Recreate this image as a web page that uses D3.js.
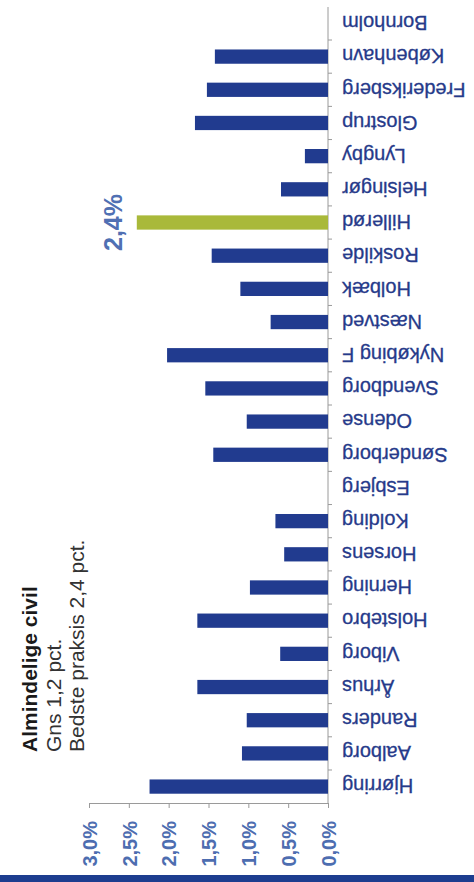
<!DOCTYPE html>
<html>
<head>
<meta charset="utf-8">
<script src="https://cdn.jsdelivr.net/npm/d3@7/dist/d3.min.js"></script>
<style>
  body { margin: 0; background: #fff; }
  svg { display: block; font-family: "Liberation Sans", Arial, sans-serif; }
</style>
</head>
<body>
<div id="chart"></div>
<script>
// data, read top to bottom in the picture
var kommuner = ["Bornholm", "København", "Frederiksberg", "Glostrup", "Lyngby", "Helsingør",
  "Hillerød", "Roskilde", "Holbæk", "Næstved", "Nykøbing F", "Svendborg", "Odense",
  "Sønderborg", "Esbjerg", "Kolding", "Horsens", "Herning", "Holstebro", "Viborg",
  "Århus", "Randers", "Aalborg", "Hjørring"];
var andel = [0, 1.42, 1.52, 1.67, 0.29, 0.59, 2.40, 1.46, 1.10, 0.72, 2.02, 1.54, 1.02,
  1.44, 0, 0.66, 0.55, 0.98, 1.64, 0.60, 1.64, 1.02, 1.08, 2.24];
var ticks = [0, 0.5, 1.0, 1.5, 2.0, 2.5, 3.0];
var best = "Hillerød";
var titel = ["Almindelige civil", "Gns 1,2 pct.", "Bedste praksis 2,4 pct."];

var width = 474, height = 882;

var svg = d3.select("#chart").append("svg")
  .attr("width", width)
  .attr("height", height);

// scales: value grows leftwards from the baseline
var x = d3.scaleLinear().domain([0, 3]).range([328, 89]);
var y = d3.scaleBand().domain(kommuner).range([7, 803]).paddingInner(0.57).paddingOuter(0.28);

var fmt = function(v) { return d3.format(".1f")(v).replace(".", ",") + "%"; };

// value axis at the bottom
var xAxis = svg.append("g")
  .attr("transform", "translate(0,803)")
  .call(d3.axisBottom(x).tickValues(ticks).tickSize(5).tickFormat(fmt));
xAxis.select(".domain").attr("stroke", "#9a9a9a");
xAxis.selectAll(".tick line").attr("stroke", "#9a9a9a");
xAxis.selectAll(".tick text")
  .attr("fill", "#4d6db0")
  .attr("font-size", 20)
  .attr("font-weight", 600)
  .attr("text-anchor", "end")
  .attr("transform", "translate(0,18) rotate(-90)")
  .attr("x", 0)
  .attr("y", 0)
  .attr("dy", "0.36em");

// category axis on the right, labels turned upside down
var step = y.step();
var yAxis = svg.append("g").attr("transform", "translate(328,0)");
yAxis.append("line")
  .attr("x1", 0).attr("x2", 0)
  .attr("y1", 7).attr("y2", 803)
  .attr("stroke", "#9a9a9a");
yAxis.selectAll(".tk")
  .data(kommuner.slice(1))
  .enter().append("line")
  .attr("class", "tk")
  .attr("x1", 0).attr("x2", 4)
  .attr("y1", function(d) { return y(d) - (step - y.bandwidth()) / 2; })
  .attr("y2", function(d) { return y(d) - (step - y.bandwidth()) / 2; })
  .attr("stroke", "#9a9a9a");
yAxis.selectAll(".lbl")
  .data(kommuner)
  .enter().append("text")
  .attr("class", "lbl")
  .attr("transform", function(d) { return "translate(14," + (y(d) + y.bandwidth() / 2) + ") rotate(180)"; })
  .attr("text-anchor", "end")
  .attr("dy", "0.36em")
  .attr("font-size", 20)
  .attr("fill", "#263a8a")
  .attr("stroke", "#263a8a")
  .attr("stroke-width", 0.3)
  .text(function(d) { return d; });

// bars
var rows = kommuner.map(function(k, i) { return { navn: k, v: andel[i] }; });
svg.selectAll(".bar")
  .data(rows)
  .enter().append("rect")
  .attr("class", "bar")
  .attr("x", function(d) { return x(d.v); })
  .attr("y", function(d) { return y(d.navn); })
  .attr("width", function(d) { return x(0) - x(d.v); })
  .attr("height", y.bandwidth())
  .attr("fill", function(d) { return d.navn == best ? "#a9b93a" : "#213b8f"; });

// value label over the best bar
var bestRow = rows.filter(function(d) { return d.navn == best; })[0];
svg.append("text")
  .attr("transform", "translate(" + (x(bestRow.v) - 15) + "," + (y(best) + y.bandwidth() / 2) + ") rotate(-90)")
  .attr("text-anchor", "middle")
  .attr("font-size", 25)
  .attr("font-weight", 600)
  .attr("fill", "#5070b3")
  .text(fmt(bestRow.v));

// title block, turned to read bottom up
var tx = [37, 61, 84];
titel.forEach(function(t, i) {
  svg.append("text")
    .attr("transform", "translate(" + tx[i] + ",752) rotate(-90)")
    .attr("font-size", 21)
    .attr("font-weight", i == 0 ? "bold" : "normal")
    .attr("fill", i == 0 ? "#1a1a1a" : "#333")
    .text(t);
});

// blue strip along the bottom edge
svg.append("rect")
  .attr("x", 0).attr("y", 875)
  .attr("width", width).attr("height", 7)
  .attr("fill", "#1d3d8f");
</script>
</body>
</html>
